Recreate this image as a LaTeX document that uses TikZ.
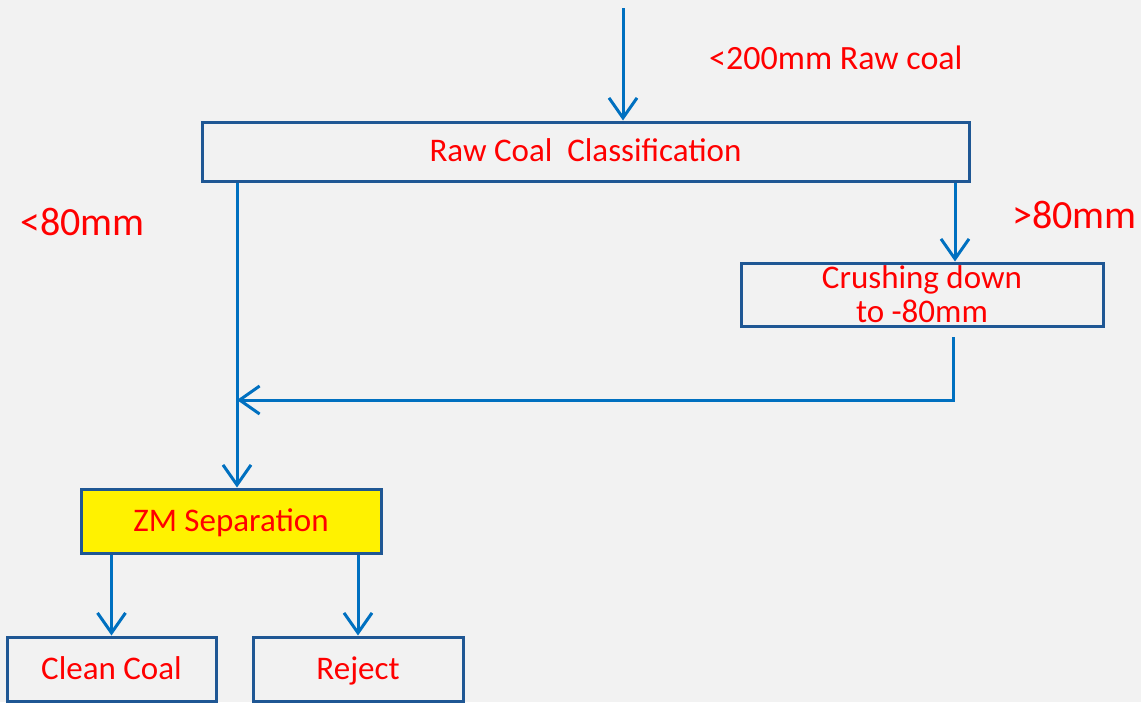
\documentclass[tikz,border=0pt]{standalone}
\usepackage{fontspec}
\setmainfont{Carlito}
\usetikzlibrary{arrows.meta}
\definecolor{bg}{RGB}{242,242,242}
\definecolor{arrowblue}{RGB}{0,112,192}
\definecolor{boxblue}{RGB}{31,87,148}
\definecolor{txtred}{RGB}{255,0,0}
\begin{document}
\begin{tikzpicture}[x=1pt,y=-1pt,
  box/.style={draw=boxblue,line width=3pt,rectangle,inner sep=0pt,text=txtred,font=\fontsize{33}{34}\selectfont,align=center},
  flow/.style={draw=arrowblue,line width=3pt,-{Straight Barb[length=20pt,width=28pt]}},
  lab/.style={text=txtred,inner sep=0pt},
  oneline/.style={text height=24pt,text depth=4pt}]
\fill[bg] (0,0) rectangle (1141,702);
\clip (0,0) rectangle (1141,702);
\node[box,oneline,minimum width=767pt,minimum height=59pt] (cls) at (585.5,151.5) {Raw Coal\ \ Classification};
\node[box,minimum width=362pt,minimum height=63pt] (crush) at (922,294.5) {Crushing down\\to -80mm};
\node[box,oneline,fill=yellow,minimum width=300pt,minimum height=64pt] (zm) at (231,521) {ZM Separation};
\node[box,oneline,minimum width=209pt,minimum height=64pt] (clean) at (111.5,669) {Clean Coal};
\node[box,oneline,minimum width=210pt,minimum height=64pt] (rej) at (358,669) {Reject};
\node[lab,font=\fontsize{34}{34}\selectfont,anchor=west] (raw) at (709,58) {<200mm Raw coal};
\node[lab,font=\fontsize{40}{40}\selectfont,anchor=west] (lt) at (20,222) {<80mm};
\node[lab,font=\fontsize{40}{40}\selectfont,anchor=east] (gt) at (1137,215) {>80mm};
\coordinate (src) at (623,8);
\coordinate (c1) at (955,0);
\coordinate (c2) at (953,337);
\coordinate (c3) at (237,400);
\coordinate (c4) at (237,0);
\draw[flow] (src) -- (src |- cls.north);
\draw[flow] (c1 |- cls.south) -- (c1 |- crush.north);
\draw[flow] (c2) -- (c2 |- c3) -- (c3);
\draw[flow] (c4 |- cls.south) -- (c4 |- zm.north);
\draw[flow] (clean.north |- zm.south) -- (clean.north);
\draw[flow] (rej.north |- zm.south) -- (rej.north);
\end{tikzpicture}
\end{document}
